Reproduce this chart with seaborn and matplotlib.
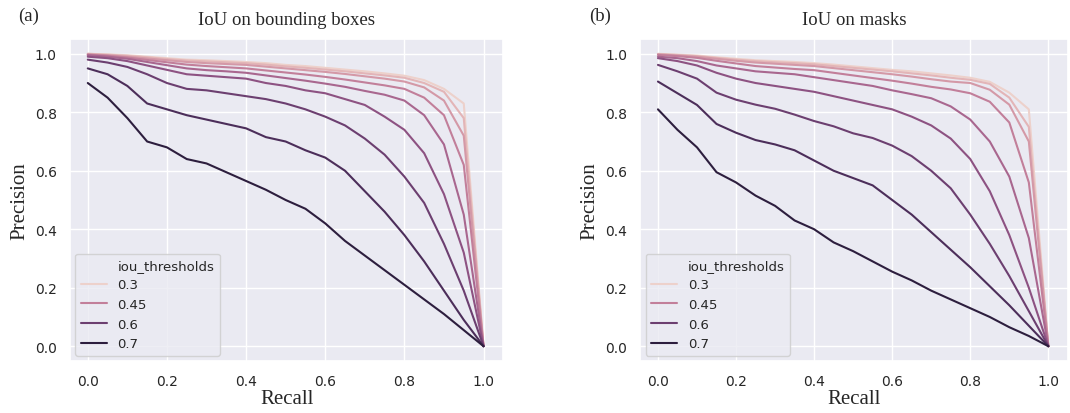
import numpy as np
import pandas as pd
import matplotlib
matplotlib.use("Agg")
import matplotlib.pyplot as plt
from matplotlib.lines import Line2D
from matplotlib.colors import Normalize
import seaborn as sns

recall = [0.0, 0.05, 0.1, 0.15, 0.2, 0.25, 0.3, 0.35, 0.4, 0.45, 0.5,
          0.55, 0.6, 0.65, 0.7, 0.75, 0.8, 0.85, 0.9, 0.95, 1.0]
iou_thresholds = [0.3, 0.35, 0.4, 0.45, 0.5, 0.55, 0.6, 0.65, 0.7]
legend_levels = [0.3, 0.45, 0.6, 0.7]

# precision per threshold, IoU on bounding boxes
bbox_030 = [1.0, 0.998, 0.995, 0.99, 0.985, 0.98, 0.978, 0.975, 0.972, 0.968, 0.962,
            0.958, 0.952, 0.946, 0.94, 0.933, 0.925, 0.91, 0.88, 0.83, 0.0]
bbox_035 = [1.0, 0.997, 0.993, 0.988, 0.982, 0.977, 0.974, 0.971, 0.968, 0.963, 0.957,
            0.952, 0.946, 0.94, 0.933, 0.926, 0.918, 0.9, 0.87, 0.78, 0.0]
bbox_040 = [0.998, 0.995, 0.99, 0.984, 0.978, 0.972, 0.968, 0.965, 0.962, 0.956, 0.95,
            0.944, 0.938, 0.931, 0.923, 0.915, 0.905, 0.885, 0.84, 0.72, 0.0]
bbox_045 = [0.997, 0.993, 0.987, 0.979, 0.971, 0.963, 0.958, 0.954, 0.95, 0.943, 0.936,
            0.929, 0.921, 0.912, 0.902, 0.892, 0.88, 0.85, 0.79, 0.62, 0.0]
bbox_050 = [0.995, 0.99, 0.983, 0.972, 0.961, 0.95, 0.944, 0.94, 0.935, 0.926, 0.917,
            0.908, 0.898, 0.887, 0.873, 0.86, 0.84, 0.79, 0.69, 0.45, 0.0]
bbox_055 = [0.99, 0.985, 0.975, 0.96, 0.945, 0.93, 0.925, 0.92, 0.915, 0.9, 0.89,
            0.875, 0.865, 0.845, 0.825, 0.785, 0.74, 0.66, 0.52, 0.32, 0.0]
bbox_060 = [0.98, 0.97, 0.955, 0.93, 0.9, 0.88, 0.875, 0.865, 0.855, 0.845, 0.83,
            0.81, 0.785, 0.755, 0.71, 0.655, 0.58, 0.49, 0.35, 0.19, 0.0]
bbox_065 = [0.95, 0.93, 0.89, 0.83, 0.81, 0.79, 0.775, 0.76, 0.745, 0.715, 0.7,
            0.67, 0.645, 0.6, 0.53, 0.46, 0.38, 0.29, 0.19, 0.09, 0.0]
bbox_070 = [0.9, 0.85, 0.78, 0.7, 0.68, 0.64, 0.625, 0.595, 0.565, 0.535, 0.5,
            0.47, 0.42, 0.36, 0.31, 0.26, 0.21, 0.16, 0.11, 0.055, 0.0]

# precision per threshold, IoU on masks
mask_030 = [1.0, 0.997, 0.994, 0.988, 0.983, 0.978, 0.975, 0.972, 0.968, 0.963, 0.957,
            0.951, 0.945, 0.94, 0.933, 0.926, 0.918, 0.904, 0.867, 0.81, 0.0]
mask_035 = [0.999, 0.996, 0.992, 0.986, 0.98, 0.975, 0.971, 0.968, 0.964, 0.958, 0.952,
            0.946, 0.94, 0.933, 0.926, 0.918, 0.911, 0.897, 0.85, 0.75, 0.0]
mask_040 = [0.998, 0.994, 0.99, 0.983, 0.976, 0.97, 0.966, 0.962, 0.958, 0.951, 0.944,
            0.937, 0.93, 0.922, 0.913, 0.905, 0.9, 0.877, 0.826, 0.7, 0.0]
mask_045 = [0.996, 0.992, 0.986, 0.976, 0.967, 0.958, 0.953, 0.948, 0.944, 0.935, 0.926,
            0.917, 0.908, 0.898, 0.887, 0.878, 0.865, 0.836, 0.765, 0.56, 0.0]
mask_050 = [0.99, 0.985, 0.975, 0.96, 0.95, 0.94, 0.935, 0.93, 0.92, 0.91, 0.9,
            0.89, 0.875, 0.862, 0.848, 0.82, 0.775, 0.7, 0.58, 0.37, 0.0]
mask_055 = [0.985, 0.975, 0.96, 0.935, 0.915, 0.9, 0.89, 0.88, 0.87, 0.855, 0.84,
            0.825, 0.81, 0.785, 0.755, 0.71, 0.64, 0.53, 0.38, 0.2, 0.0]
mask_060 = [0.962, 0.94, 0.915, 0.867, 0.843, 0.826, 0.812, 0.792, 0.77, 0.752, 0.728,
            0.712, 0.686, 0.65, 0.6, 0.54, 0.45, 0.35, 0.24, 0.12, 0.0]
mask_065 = [0.905, 0.865, 0.825, 0.76, 0.73, 0.705, 0.69, 0.67, 0.635, 0.6, 0.575,
            0.55, 0.5, 0.45, 0.39, 0.33, 0.27, 0.205, 0.14, 0.07, 0.0]
mask_070 = [0.81, 0.74, 0.68, 0.595, 0.56, 0.515, 0.48, 0.43, 0.4, 0.355, 0.325,
            0.29, 0.255, 0.225, 0.19, 0.16, 0.13, 0.1, 0.065, 0.035, 0.0]

bbox_curves = [bbox_030, bbox_035, bbox_040, bbox_045, bbox_050,
               bbox_055, bbox_060, bbox_065, bbox_070]
mask_curves = [mask_030, mask_035, mask_040, mask_045, mask_050,
               mask_055, mask_060, mask_065, mask_070]


def to_frame(curves):
    rows = []
    for thr, prec in zip(iou_thresholds, curves):
        for r, p in zip(recall, prec):
            rows.append({"recall": r, "precision": p, "iou_thresholds": thr})
    return pd.DataFrame(rows)


sns.set_theme(style="darkgrid")
serif = ["Liberation Serif", "DejaVu Serif"]

cmap = sns.cubehelix_palette(as_cmap=True)
norm = Normalize(min(iou_thresholds), max(iou_thresholds))

fig, axes = plt.subplots(1, 2, figsize=(10.7, 4.14), dpi=100)
axes[0].set_position([0.0654, 0.126, 0.405, 0.777])
axes[1].set_position([0.5985, 0.126, 0.3995, 0.777])

panels = [("(a)", "IoU on bounding boxes", bbox_curves),
          ("(b)", "IoU on masks", mask_curves)]

for ax, (tag, title, curves) in zip(axes, panels):
    df = to_frame(curves)
    sns.lineplot(data=df, x="recall", y="precision", hue="iou_thresholds",
                 palette=cmap, hue_norm=norm, ax=ax, legend=False, linewidth=1.5)
    ax.set_xlim(-0.045, 1.05)
    ax.set_ylim(-0.05, 1.05)
    ax.set_xticks([0.0, 0.2, 0.4, 0.6, 0.8, 1.0])
    ax.set_yticks([0.0, 0.2, 0.4, 0.6, 0.8, 1.0])
    ax.tick_params(labelsize=10)
    ax.set_xlabel("Recall", fontsize=15, family=serif, labelpad=1)
    ax.set_ylabel("Precision", fontsize=15, family=serif, labelpad=4)
    ax.set_title(title, fontsize=13.5, family=serif, pad=11)
    ax.text(-0.12, 1.06, tag, transform=ax.transAxes, fontsize=13.5, family=serif)

    handles = [Line2D([], [], alpha=0)]
    labels = ["iou_thresholds"]
    for lv in legend_levels:
        handles.append(Line2D([], [], color=cmap(norm(lv)), linewidth=1.5))
        labels.append(str(lv))
    ax.legend(handles, labels, loc="lower left", fontsize=9.5, frameon=True,
              borderaxespad=0.4)

fig.savefig("out.png", dpi=100)
